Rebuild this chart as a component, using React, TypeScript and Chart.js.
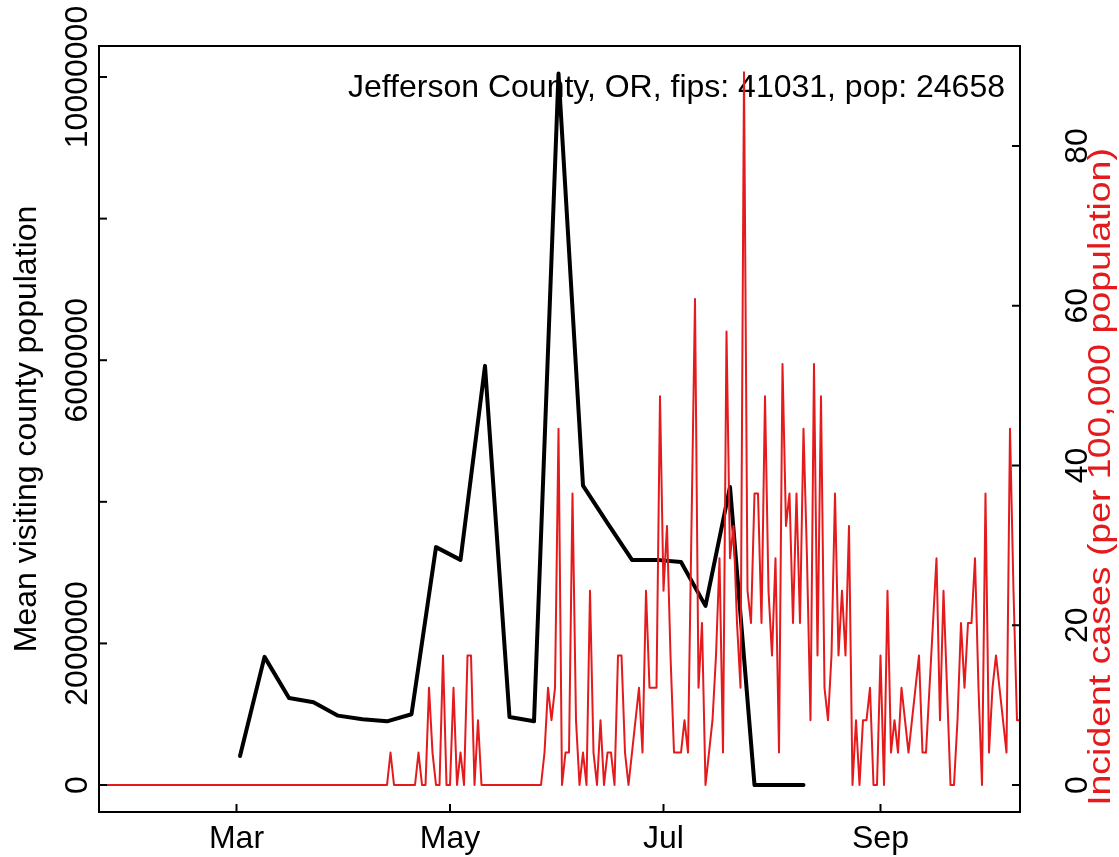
import React, { useEffect, useRef } from "react";
import { Chart, registerables } from "chart.js";

Chart.register(...registerables);

// x values are days counted from 2020-03-01 (day 0)
const TITLE = "Jefferson County, OR, fips: 41031, pop: 24658";
const LEFT_TITLE = "Mean visiting county population";
const RIGHT_TITLE = "Incident cases (per 100,000 population)";

const xTickDays = [0, 61, 122, 184];
const xTickLabels = ["Mar", "May", "Jul", "Sep"];

const leftTicks = [0, 2000000, 4000000, 6000000, 8000000, 10000000];
const leftTickLabels = ["0", "2000000", "", "6000000", "", "10000000"];

const rightTicks = [0, 20, 40, 60, 80];
const rightTickLabels = ["0", "20", "40", "60", "80"];

// weekly mean visiting county population (black)
const visitDays = [1, 8, 15, 22, 29, 36, 43, 50, 57, 64, 71, 78, 85, 92, 99, 106, 113, 120, 127, 134, 141, 148, 155, 162];
const visitPop = [
  410000, 1810000, 1230000, 1170000, 980000, 930000, 900000, 1000000, 3360000, 3180000,
  5920000, 960000, 900000, 10050000, 4230000, 3700000, 3180000, 3180000, 3150000, 2530000,
  4210000, 0, 0, 0,
];

// daily incident cases per 100,000 (red), first value is day -40
const incidenceStartDay = -40;
const incidence = [
  // day -40 .. -1
  0, 0, 0, 0, 0, 0, 0, 0, 0, 0, 0, 0, 0, 0, 0, 0, 0, 0, 0, 0,
  0, 0, 0, 0, 0, 0, 0, 0, 0, 0, 0, 0, 0, 0, 0, 0, 0, 0, 0, 0,
  // day 0 .. 43
  0, 0, 0, 0, 0, 0, 0, 0, 0, 0, 0, 0, 0, 0, 0, 0, 0, 0, 0, 0,
  0, 0, 0, 0, 0, 0, 0, 0, 0, 0, 0, 0, 0, 0, 0, 0, 0, 0, 0, 0,
  0, 0, 0, 0,
  // day 44 .. 69
  4.06, 0, 0, 0, 0, 0, 0, 0, 4.06, 0, 0, 12.17, 4.06, 0, 0, 16.22, 0, 0, 12.17, 0,
  4.06, 0, 16.22, 16.22, 0, 8.11,
  // day 70 .. 87
  0, 0, 0, 0, 0, 0, 0, 0, 0, 0, 0, 0, 0, 0, 0, 0, 0, 0,
  // day 88 .. 115
  4.06, 12.17, 8.11, 12.17, 44.61, 0, 4.06, 4.06, 36.5, 8.11, 0, 4.06, 0, 24.33, 4.06, 0,
  8.11, 0, 4.06, 4.06, 0, 16.22, 16.22, 4.06, 0, 4.06, 8.11, 12.17,
  // day 116 .. 150
  4.06, 24.33, 12.17, 12.17, 12.17, 48.66, 24.33, 32.44, 16.22, 4.06, 4.06, 4.06, 8.11, 4.06,
  32.44, 60.83, 12.17, 20.28, 0, 4.06, 8.11, 16.22, 28.39, 4.06, 56.78, 28.39, 32.44, 20.28,
  12.17, 89.22, 24.33, 20.28, 36.5, 36.5, 20.28,
  // day 151 .. 189
  48.66, 24.33, 16.22, 28.39, 4.06, 52.72, 32.44, 36.5, 20.28, 36.5, 20.28, 44.61, 28.39,
  8.11, 52.72, 16.22, 48.66, 12.17, 8.11, 16.22, 36.5, 16.22, 24.33, 16.22, 32.44, 0, 8.11,
  0, 8.11, 8.11, 12.17, 0, 0, 16.22, 0, 24.33, 4.06, 8.11, 4.06,
  // day 190 .. 224
  12.17, 8.11, 4.06, 8.11, 12.17, 16.22, 4.06, 4.06, 12.17, 20.28, 28.39, 8.11, 24.33, 12.17,
  0, 0, 8.11, 20.28, 12.17, 20.28, 20.28, 28.39, 12.17, 0, 36.5, 4.06, 12.17, 16.22, 12.17,
  8.11, 4.06, 44.61, 24.33, 8.11, 8.11,
];

const RED = "#E41A1C";
const FONT = '32px "Liberation Sans", Arial, Helvetica, sans-serif';

const X_MIN = -39.29;
const X_MAX = 223.86;
const L_MIN = -381000;
const L_MAX = 10438000;
const R_MIN = -3.38;
const R_MAX = 92.52;

const decorPlugin = {
  id: "decor",
  beforeDatasetsDraw(chart: any) {
    const ctx = chart.ctx;
    const area = chart.chartArea;
    ctx.save();
    ctx.fillStyle = "#000";
    ctx.font = FONT;
    ctx.textAlign = "right";
    ctx.textBaseline = "alphabetic";
    ctx.fillText(TITLE, area.right - 15, 97);
    ctx.restore();
  },
  afterDatasetsDraw(chart: any) {
    const ctx = chart.ctx;
    const area = chart.chartArea;
    const xs = chart.scales.x;
    const yl = chart.scales.yL;
    const yr = chart.scales.yR;
    const tick = 8;
    ctx.save();
    ctx.strokeStyle = "#000";
    ctx.lineWidth = 2;
    ctx.strokeRect(area.left, area.top, area.right - area.left, area.bottom - area.top);

    ctx.font = FONT;
    ctx.fillStyle = "#000";

    // bottom axis
    ctx.textAlign = "center";
    ctx.textBaseline = "alphabetic";
    xTickDays.forEach((d, i) => {
      const px = xs.getPixelForValue(d);
      ctx.beginPath();
      ctx.moveTo(px, area.bottom);
      ctx.lineTo(px, area.bottom - tick);
      ctx.stroke();
      ctx.fillText(xTickLabels[i], px, 848);
    });

    // left axis
    leftTicks.forEach((v, i) => {
      const py = yl.getPixelForValue(v);
      ctx.beginPath();
      ctx.moveTo(area.left, py);
      ctx.lineTo(area.left + tick, py);
      ctx.stroke();
      if (leftTickLabels[i]) {
        ctx.save();
        ctx.translate(87, py);
        ctx.rotate(-Math.PI / 2);
        ctx.textAlign = "center";
        ctx.fillText(leftTickLabels[i], 0, 0);
        ctx.restore();
      }
    });

    // right axis
    rightTicks.forEach((v, i) => {
      const py = yr.getPixelForValue(v);
      ctx.beginPath();
      ctx.moveTo(area.right, py);
      ctx.lineTo(area.right - tick, py);
      ctx.stroke();
      ctx.save();
      ctx.translate(1087, py);
      ctx.rotate(-Math.PI / 2);
      ctx.textAlign = "center";
      ctx.fillText(rightTickLabels[i], 0, 0);
      ctx.restore();
    });

    const midY = (area.top + area.bottom) / 2;
    ctx.save();
    ctx.translate(36, midY);
    ctx.rotate(-Math.PI / 2);
    ctx.textAlign = "center";
    ctx.fillText(LEFT_TITLE, 0, 0);
    ctx.restore();

    ctx.save();
    ctx.fillStyle = RED;
    ctx.translate(1110, 477);
    ctx.rotate(-Math.PI / 2);
    ctx.scale(1.17, 1);
    ctx.textAlign = "center";
    ctx.fillText(RIGHT_TITLE, 0, 0);
    ctx.restore();

    ctx.restore();
  },
};

export default function App() {
  const canvasRef = useRef<HTMLCanvasElement | null>(null);

  useEffect(() => {
    if (!canvasRef.current) return;
    const redData = incidence.map((v, i) => ({ x: incidenceStartDay + i, y: v }));
    const blackData = visitDays.map((d, i) => ({ x: d, y: visitPop[i] }));
    const chart = new Chart(canvasRef.current, {
      type: "line",
      data: {
        datasets: [
          {
            label: "Incident cases",
            data: redData,
            yAxisID: "yR",
            borderColor: RED,
            borderWidth: 2,
            borderJoinStyle: "round",
            borderCapStyle: "round",
            pointRadius: 0,
            tension: 0,
            fill: false,
            clip: 0,
          },
          {
            label: "Mean visiting county population",
            data: blackData,
            yAxisID: "yL",
            borderColor: "#000",
            borderWidth: 4,
            borderJoinStyle: "round",
            borderCapStyle: "round",
            pointRadius: 0,
            tension: 0,
            fill: false,
            clip: 0,
          },
        ],
      },
      options: {
        responsive: false,
        animation: false,
        events: [],
        layout: { padding: { left: 99, right: 99, top: 46, bottom: 45 } },
        plugins: { legend: { display: false }, tooltip: { enabled: false }, title: { display: false } },
        scales: {
          x: { type: "linear", min: X_MIN, max: X_MAX, display: false },
          yL: { type: "linear", position: "left", min: L_MIN, max: L_MAX, display: false },
          yR: { type: "linear", position: "right", min: R_MIN, max: R_MAX, display: false },
        },
      },
      plugins: [decorPlugin],
    });
    return () => chart.destroy();
  }, []);

  return (
    <div style={{ position: "fixed", left: 0, top: 0, width: 1119, height: 857, background: "#fff" }}>
      <canvas ref={canvasRef} width={1119} height={857} />
    </div>
  );
}
